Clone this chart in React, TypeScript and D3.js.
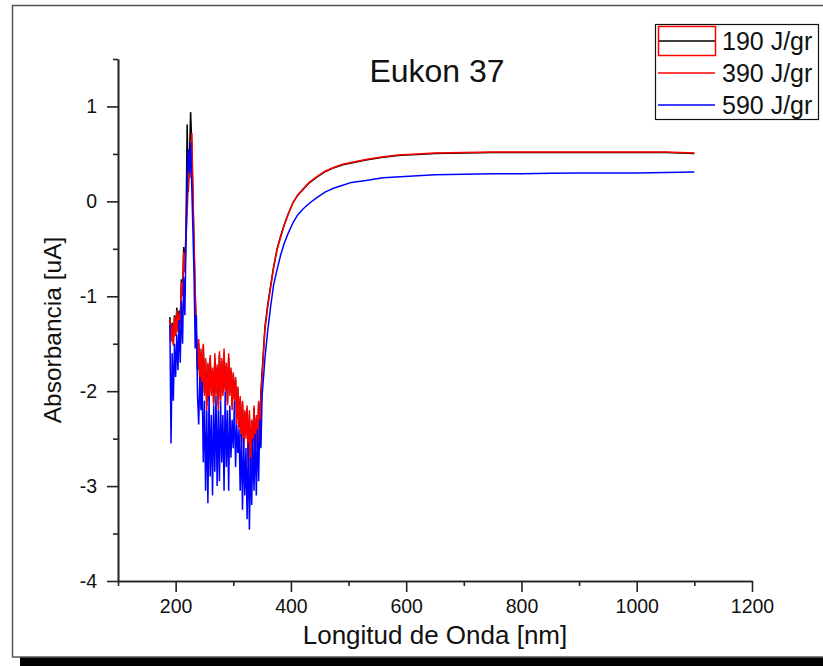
import React, { useEffect, useRef } from "react";
import * as d3 from "d3";

// wavelengths [nm] of the noisy UV part and of the smooth part
const noisyNm = [
  190, 192, 194, 196, 198, 200, 202, 204, 206, 208, 210, 212, 214, 216, 218, 220, 222, 224, 226, 228,
  230, 232, 234, 236, 238, 240, 242, 244, 246, 248, 250, 252, 254, 256, 258, 260, 262, 264, 266, 268,
  270, 272, 274, 276, 278, 280, 282, 284, 286, 288, 290, 292, 294, 296, 298, 300, 302, 304, 306, 308,
  310, 312, 314, 316, 318, 320, 322, 324, 326, 328, 330, 332, 334, 336, 338, 340, 342, 344, 346, 348, 350,
];
const smoothNm = [
  355, 360, 365, 370, 376, 382, 388, 395, 404, 412, 421, 432, 445, 460, 475, 490, 505, 530, 560, 590,
  620, 650, 700, 750, 800, 850, 900, 950, 1000, 1050, 1100,
];

// 190 J/gr (black)
const noisy190 = [
  -1.22, -1.45, -1.28, -1.5, -1.2, -1.4, -1.12, -1.35, -1.15, -1.28, -0.82, -0.98, -0.48, -0.72, -0.3, 0.81, 0.1, 0.45, 0.94, 0.6,
  0.05, -0.5, -1.0, -1.42, -1.78, -1.5, -1.92, -1.58, -2.08, -1.52, -2.02, -1.68, -2.15, -1.72, -2.08, -1.65, -2.02, -1.78, -2.12, -1.65,
  -2.02, -1.75, -2.15, -1.62, -2.08, -1.68, -2.02, -1.6, -1.98, -1.74, -2.12, -1.65, -2.02, -1.78, -2.15, -1.82, -2.08, -1.88, -2.3, -1.98,
  -2.38, -2.08, -2.5, -2.12, -2.55, -2.22, -2.45, -2.18, -2.7, -2.25, -2.85, -2.32, -2.52, -2.18, -2.65, -2.28, -2.55, -2.12, -2.4, -2.0, -1.8,
];
const smooth190 = [
  -1.32, -1.08, -0.88, -0.69, -0.5, -0.37, -0.255, -0.135, -0.01, 0.065, 0.125, 0.195, 0.255, 0.315, 0.355, 0.385, 0.405, 0.435, 0.465, 0.485,
  0.495, 0.505, 0.51, 0.515, 0.515, 0.515, 0.515, 0.515, 0.515, 0.515, 0.505,
];

// 390 J/gr (red)
const noisy390 = [
  -1.25, -1.48, -1.3, -1.52, -1.22, -1.42, -1.15, -1.38, -1.18, -1.3, -0.85, -1.0, -0.53, -0.75, -0.4, -0.1, 0.2, 0.51, 0.25, 0.72,
  0.1, -0.45, -0.95, -1.4, -1.75, -1.45, -1.95, -1.55, -2.1, -1.5, -2.05, -1.65, -2.2, -1.7, -2.1, -1.62, -2.05, -1.75, -2.15, -1.6,
  -2.05, -1.72, -2.2, -1.58, -2.1, -1.65, -2.05, -1.55, -2.0, -1.7, -2.15, -1.6, -2.05, -1.75, -2.2, -1.8, -2.1, -1.85, -2.35, -1.95,
  -2.4, -2.05, -2.55, -2.1, -2.6, -2.2, -2.5, -2.15, -2.75, -2.2, -2.9, -2.3, -2.55, -2.15, -2.7, -2.25, -2.6, -2.1, -2.45, -2.05, -1.85,
];
const smooth390 = [
  -1.35, -1.1, -0.9, -0.7, -0.51, -0.38, -0.26, -0.14, -0.01, 0.07, 0.13, 0.2, 0.26, 0.32, 0.36, 0.39, 0.41, 0.44, 0.47, 0.49,
  0.5, 0.51, 0.515, 0.52, 0.52, 0.52, 0.52, 0.52, 0.52, 0.52, 0.51,
];

// 590 J/gr (blue)
const noisy590 = [
  -1.3, -2.55, -1.6, -2.1, -1.5, -1.85, -1.4, -1.78, -1.25, -1.7, -1.05, -1.5, -0.8, -1.2, -0.4, 0.2, 0.55, 0.3, 0.62, 0.15,
  -0.3, -0.8, -1.55, -1.2, -2.05, -2.35, -1.85, -2.2, -1.9, -2.75, -2.1, -3.05, -2.2, -3.18, -2.05, -2.9, -2.25, -3.1, -2.15, -2.85,
  -2.05, -3.0, -2.2, -2.95, -2.1, -2.75, -2.25, -3.05, -2.0, -2.8, -2.2, -3.05, -2.15, -2.7, -2.3, -2.6, -2.1, -2.8, -2.35, -2.65,
  -2.4, -3.05, -2.45, -3.25, -2.5, -3.1, -2.6, -3.35, -2.55, -3.46, -2.7, -3.2, -2.5, -3.05, -2.45, -3.1, -2.4, -2.95, -2.3, -2.6, -2.05,
];
const smooth590 = [
  -1.65, -1.35, -1.1, -0.88, -0.72, -0.57, -0.45, -0.34, -0.22, -0.14, -0.08, -0.02, 0.04, 0.1, 0.14, 0.17, 0.2, 0.22, 0.25, 0.26,
  0.27, 0.28, 0.285, 0.29, 0.29, 0.295, 0.3, 0.3, 0.3, 0.305, 0.31,
];

const seriesNames = ["190 J/gr", "390 J/gr", "590 J/gr"];
const seriesColors = ["#000000", "#ff0000", "#0000ff"];
const xTicks = [200, 400, 600, 800, 1000, 1200];
const xMinorTicks = [100, 300, 500, 700, 900, 1100];
const yTicks = [-4, -3, -2, -1, 0, 1];
const yMinorTicks = [-3.5, -2.5, -1.5, -0.5, 0.5, 1.5];

const FONT = "'Liberation Sans', Arial, sans-serif";

export default function App() {
  const ref = useRef<SVGSVGElement>(null);

  useEffect(() => {
    const svg = d3.select(ref.current);
    svg.selectAll("*").remove();

    const x = d3.scaleLinear().domain([100, 1200]).range([118, 752]);
    const y = d3.scaleLinear().domain([-4, 1.5]).range([581, 59]);

    // page frame + shadow
    svg.append("rect").attr("x", 20).attr("y", 657).attr("width", 820).attr("height", 20).attr("fill", "#000");
    svg.append("rect").attr("x", 12.5).attr("y", 5.5).attr("width", 830).attr("height", 651.5)
      .attr("fill", "none").attr("stroke", "#555").attr("stroke-width", 1.5);

    // data
    const series = [
      noisy190.concat(smooth190),
      noisy390.concat(smooth390),
      noisy590.concat(smooth590),
    ];
    const nm = noisyNm.concat(smoothNm);
    const line = d3.line<number>().x((d, i) => x(nm[i])).y(d => y(d));

    series.forEach((vals, k) => {
      svg.append("path").datum(vals)
        .attr("d", line)
        .attr("fill", "none")
        .attr("stroke", seriesColors[k])
        .attr("stroke-width", 1.5)
        .attr("stroke-linejoin", "miter");
    });

    // axes
    const xAxis = svg.append("g").attr("transform", "translate(0,581)")
      .call(d3.axisBottom(x).tickValues(xTicks).tickSize(11).tickSizeOuter(0).tickPadding(7).tickFormat(d => String(d)));
    svg.append("g").attr("transform", "translate(0,581)")
      .call(d3.axisBottom(x).tickValues(xMinorTicks).tickSize(5).tickSizeOuter(0).tickFormat(() => ""));
    const yAxis = svg.append("g").attr("transform", "translate(118,0)")
      .call(d3.axisLeft(y).tickValues(yTicks).tickSize(11).tickSizeOuter(0).tickPadding(10).tickFormat(d => String(d)));
    svg.append("g").attr("transform", "translate(118,0)")
      .call(d3.axisLeft(y).tickValues(yMinorTicks).tickSize(5).tickSizeOuter(0).tickFormat(() => ""));

    svg.selectAll(".domain, .tick line").attr("stroke", "#222").attr("stroke-width", 1.6);
    xAxis.selectAll("text").attr("font-size", 19.5).attr("font-family", FONT).attr("fill", "#111");
    yAxis.selectAll("text").attr("font-size", 19.5).attr("font-family", FONT).attr("fill", "#111");

    // titles
    svg.append("text").attr("x", 437).attr("y", 82).attr("text-anchor", "middle")
      .attr("font-family", FONT).attr("font-size", 32).attr("fill", "#111").text("Eukon 37");
    svg.append("text").attr("x", 435).attr("y", 644).attr("text-anchor", "middle")
      .attr("font-family", FONT).attr("font-size", 26).attr("fill", "#111").text("Longitud de Onda [nm]");
    svg.append("text").attr("transform", "translate(61,330) rotate(-90)").attr("text-anchor", "middle")
      .attr("font-family", FONT).attr("font-size", 24.5).attr("fill", "#111").text("Absorbancia [uA]");

    // legend
    const lg = svg.append("g");
    lg.append("rect").attr("x", 655.5).attr("y", 24.5).attr("width", 163).attr("height", 95)
      .attr("fill", "#fff").attr("stroke", "#111").attr("stroke-width", 1.2);
    seriesNames.forEach((name, k) => {
      const cy = 41 + k * 32;
      lg.append("line").attr("x1", 658).attr("x2", 715).attr("y1", cy).attr("y2", cy)
        .attr("stroke", seriesColors[k]).attr("stroke-width", 1.5);
      lg.append("text").attr("x", 722).attr("y", cy + 9).attr("font-family", FONT)
        .attr("font-size", 25).attr("fill", "#111").text(name);
    });
    lg.append("rect").attr("x", 658.5).attr("y", 26.5).attr("width", 57).attr("height", 29)
      .attr("fill", "none").attr("stroke", "#ff0000").attr("stroke-width", 1.5);
  }, []);

  return (
    <svg ref={ref} width={823} height={666}
      style={{ position: "absolute", left: 0, top: 0, background: "#fff" }} />
  );
}
